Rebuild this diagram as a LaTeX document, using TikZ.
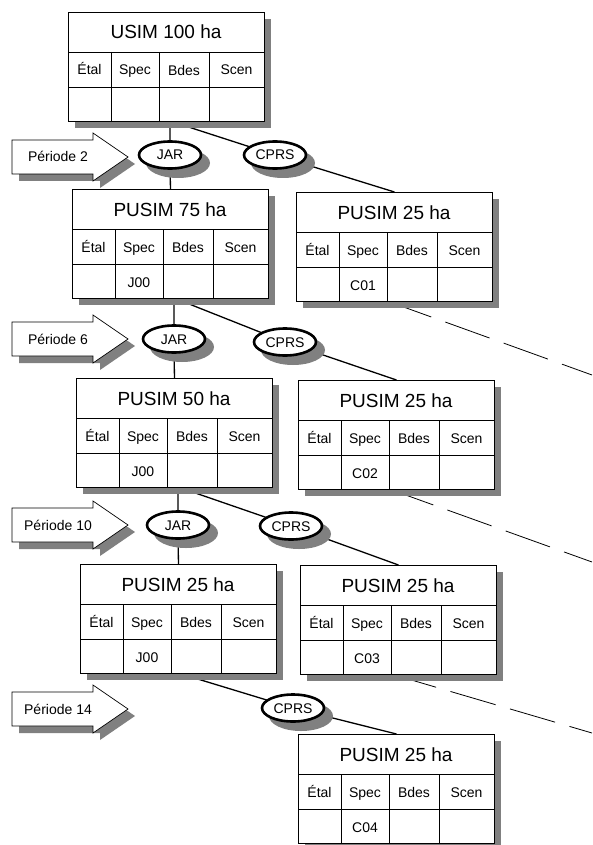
\documentclass[tikz,border=0pt]{standalone}
\usepackage{fontspec}
\setmainfont{Liberation Sans}
\usetikzlibrary{shapes.geometric,shadows,calc}
\definecolor{shadowgray}{RGB}{128,128,128}
\pgfdeclarelayer{back}
\pgfdeclarelayer{bg}
\pgfsetlayers{back,bg,main}
\tikzset{
  tblbox/.style={draw, line width=0.9pt, fill=white, minimum width=196pt, minimum height=109pt,
    inner sep=0pt, anchor=north west,
    drop shadow={shadow xshift=7pt, shadow yshift=-7pt, fill=shadowgray, opacity=1}},
  tblline/.style={line width=0.9pt},
  titletxt/.style={font=\fontsize{19}{21}\selectfont, inner sep=0pt, anchor=base},
  celltxt/.style={font=\fontsize{14}{16}\selectfont, inner sep=0pt, anchor=base},
  opnode/.style={ellipse, draw, line width=2.6pt, fill=white, minimum width=62pt, minimum height=27pt,
    inner sep=0pt, font=\fontsize{14}{16}\selectfont, text height=10pt, text depth=0pt},
  opshadow/.style={fill=shadowgray},
  conn/.style={line width=1.3pt},
  dashconn/.style={line width=0.8pt, dash pattern=on 47pt off 15pt},
  perbox/.style={draw, line width=0.7pt, fill=white},
  pertxt/.style={font=\fontsize{14}{16}\selectfont, inner sep=0pt, anchor=base},
}
\newcommand\usimtab[5]{%
  \node[tblbox] (#1) at (#2,#3) {};
  \draw[tblline] (#2,#3+40) -- ++(196,0);
  \draw[tblline] (#2,#3+75) -- ++(196,0);
  \draw[tblline] (#2+43,#3+40) -- ++(0,69);
  \draw[tblline] (#2+91,#3+40) -- ++(0,69);
  \draw[tblline] (#2+141,#3+40) -- ++(0,69);
  \node[titletxt] (#1-ti) at (#2+98,#3+27) {#4};
  \node[celltxt] (#1-h1) at (#2+21.5,#3+63) {Étal};
  \node[celltxt] (#1-h2) at (#2+67,#3+63) {Spec};
  \node[celltxt] (#1-h3) at (#2+116,#3+63.5) {Bdes};
  \node[celltxt] (#1-h4) at (#2+168.5,#3+63) {Scen};
  \node[celltxt] (#1-d) at (#2+67,#3+98) {#5};
  \coordinate (#1-db) at (#2+91,#3+109);
}
\newcommand\perarrow[3]{%
  \fill[shadowgray] (19,#2-10) -- (100,#2-10) -- (100,#2-17) -- (135,#2+7) -- (100,#2+31)
     -- (100,#2+24) -- (19,#2+24) -- cycle;
  \draw[perbox] (12,#2-17) -- (93,#2-17) -- (93,#2-24) -- (128,#2) -- (93,#2+24)
     -- (93,#2+17) -- (12,#2+17) -- cycle;
  \node[pertxt] (#1) at (58,#2+5) {#3};
}
\newcommand\opn[4]{%
  \fill[opshadow] (#2+8,#3+8) ellipse [x radius=32pt, y radius=15pt];
  \node[opnode] (#1) at (#2,#3) {#4};
}
\begin{document}
\begin{tikzpicture}[x=1pt,y=-1pt]
\useasboundingbox (0,0) rectangle (592,845);
\begin{pgfonlayer}{back}
\fill[white] (0,0) rectangle (592,845);
\end{pgfonlayer}

% tables
\usimtab{t0}{68}{12}{USIM 100 ha}{}
\usimtab{t1}{72}{189}{PUSIM 75 ha}{J00}
\usimtab{t2}{296}{192}{PUSIM 25 ha}{C01}
\usimtab{t3}{76}{378}{PUSIM 50 ha}{J00}
\usimtab{t4}{298}{380}{PUSIM 25 ha}{C02}
\usimtab{t5}{80}{564}{PUSIM 25 ha}{J00}
\usimtab{t6}{300}{565}{PUSIM 25 ha}{C03}
\usimtab{t7}{298}{734}{PUSIM 25 ha}{C04}

% period arrows
\perarrow{p2}{157}{Période 2}
\perarrow{p6}{339}{Période 6}
\perarrow{p10}{525}{Période 10}
\perarrow{p14}{709}{Période 14}

% operation ellipses
\opn{jar1}{170}{155}{JAR}
\opn{cprs1}{275}{155}{CPRS}
\opn{jar2}{174}{339}{JAR}
\opn{cprs2}{285}{342}{CPRS}
\opn{jar3}{178}{525}{JAR}
\opn{cprs3}{291}{526}{CPRS}
\opn{cprs4}{293}{708}{CPRS}

% connector start points and dashed ends
\coordinate (s0) at (170,121);
\coordinate (s1) at (174,298);
\coordinate (s3) at (178,487);
\coordinate (s5) at (178,673);
\coordinate (e1) at (592,375);
\coordinate (e2) at (592,562);
\coordinate (e3) at (592,733);

\begin{pgfonlayer}{bg}
  \draw[conn] (s0) -- (jar1.center) -- (t1.north);
  \draw[conn] (s0) -- (cprs1.center) -- (t2.north);
  \draw[conn] (s1) -- (jar2.center) -- (t3.north);
  \draw[conn] (s1) -- (cprs2.center) -- (t4.north);
  \draw[conn] (s3) -- (jar3.center) -- (t5.north);
  \draw[conn] (s3) -- (cprs3.center) -- (t6.north);
  \draw[conn] (s5) -- (cprs4.center) -- (t7.north);
  \draw[dashconn] (t2-db) -- (e1);
  \draw[dashconn] (t4-db) -- (e2);
  \draw[dashconn] (t6-db) -- (e3);
\end{pgfonlayer}
\end{tikzpicture}
\end{document}
